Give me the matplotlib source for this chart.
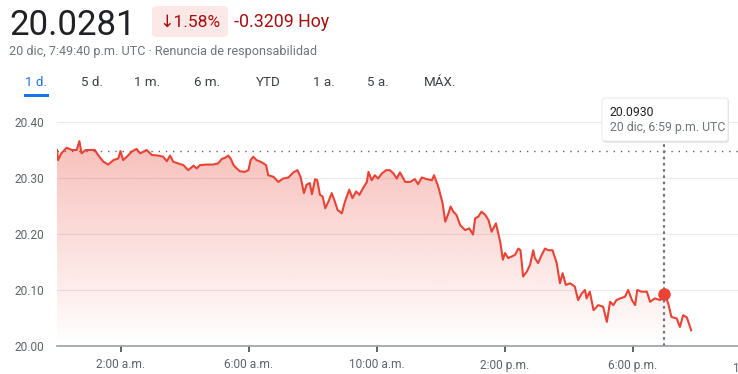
"""Cotización intradía (estilo Google Finance) con tooltip y gradiente."""

import matplotlib

matplotlib.use("Agg")
import matplotlib.pyplot as plt
import numpy as np
from matplotlib.patches import FancyBboxPatch, Rectangle

RED = "#ea4335"
DARK = "#202124"
GRAY = "#70757a"
BLUE = "#1a73e8"
plt.rcParams["font.family"] = ["Roboto", "DejaVu Sans"]

# minutos desde medianoche (UTC) y precio
minutes = [0, 2, 8, 12, 18, 28, 37, 42, 46, 54, 62, 71, 77, 87, 96, 106, 115, 119, 124, 131,
           140, 149, 156, 168, 178, 190, 199, 206, 212, 218, 227, 237, 246, 256, 262, 268, 281, 293, 302, 309,
           315, 321, 326, 331, 337, 343, 352, 359, 363, 368, 374, 384, 392, 396, 406, 415, 424, 434, 443, 451,
           457, 463, 468, 474, 478, 484, 488, 493, 498, 503, 509, 515, 521, 526, 534, 540, 548, 554, 561, 567,
           574, 581, 584, 590, 596, 602, 609, 617, 624, 631, 637, 643, 653, 662, 671, 677, 684, 693, 703, 707,
           715, 723, 728, 734, 738, 743, 749, 756, 765, 773, 780, 784, 790, 796, 803, 809, 815, 823, 831, 836,
           840, 846, 853, 859, 865, 869, 874, 881, 887, 893, 896, 902, 909, 915, 921, 929, 937, 943, 948, 954,
           962, 971, 977, 984, 990, 993, 999, 1006, 1015, 1024, 1031, 1037, 1043, 1049, 1056, 1065, 1071, 1078,
           1084, 1088, 1096, 1106, 1112, 1121, 1131, 1139, 1146, 1152, 1162, 1168, 1174, 1181, 1189]
prices = [20.350, 20.332, 20.344, 20.348, 20.354, 20.350, 20.350, 20.366, 20.344, 20.350, 20.350, 20.350,
          20.341, 20.329, 20.324, 20.332, 20.335, 20.348, 20.332, 20.338, 20.347, 20.352, 20.344, 20.350,
          20.341, 20.340, 20.338, 20.330, 20.340, 20.329, 20.326, 20.323, 20.314, 20.322, 20.317, 20.323,
          20.324, 20.324, 20.326, 20.334, 20.336, 20.340, 20.334, 20.323, 20.317, 20.312, 20.311, 20.314,
          20.332, 20.338, 20.332, 20.328, 20.323, 20.305, 20.302, 20.293, 20.299, 20.301, 20.310, 20.314,
          20.301, 20.273, 20.288, 20.291, 20.271, 20.298, 20.296, 20.270, 20.267, 20.246, 20.258, 20.273,
          20.258, 20.243, 20.237, 20.258, 20.279, 20.264, 20.276, 20.270, 20.282, 20.293, 20.311, 20.296,
          20.305, 20.299, 20.308, 20.314, 20.314, 20.308, 20.299, 20.310, 20.293, 20.293, 20.298, 20.289,
          20.301, 20.298, 20.296, 20.305, 20.284, 20.255, 20.222, 20.237, 20.249, 20.240, 20.234, 20.216,
          20.207, 20.210, 20.199, 20.228, 20.231, 20.240, 20.234, 20.225, 20.204, 20.219, 20.186, 20.154,
          20.166, 20.157, 20.160, 20.163, 20.174, 20.171, 20.124, 20.133, 20.145, 20.171, 20.157, 20.148,
          20.163, 20.174, 20.171, 20.171, 20.148, 20.112, 20.130, 20.109, 20.112, 20.106, 20.082, 20.094,
          20.100, 20.085, 20.097, 20.064, 20.073, 20.070, 20.043, 20.079, 20.073, 20.082, 20.085, 20.088,
          20.100, 20.082, 20.073, 20.100, 20.097, 20.097, 20.079, 20.085, 20.082, 20.093, 20.076, 20.052,
          20.049, 20.034, 20.055, 20.051, 20.028]
prev_close = 20.349
hover_min, hover_price = 1139, 20.093
tick_min = [120, 360, 600, 840, 1080, 1320]
tick_labels = ["2:00 a.m.", "6:00 a.m.", "10:00 a.m.", "2:00 p.m.", "6:00 p.m.", "10:00 p.m."]
y_ticks = [20.00, 20.10, 20.20, 20.30, 20.40]
tabs = ["1 d.", "5 d.", "1 m.", "6 m.", "YTD", "1 a.", "5 a.", "MÁX."]
tab_x = [36, 92, 147, 207, 268, 324, 378, 440]

W, H = 738, 374
fig = plt.figure(figsize=(W / 100, H / 100), dpi=100)


def fx(px):
    return px / W


def fy(py):
    return 1 - py / H


# ---------------- cabecera ----------------
fig.text(fx(9), fy(35), "20.0281", fontsize=25, color=DARK, va="baseline")
fig.patches.append(FancyBboxPatch((fx(152), fy(37)), fx(76), 31 / H, transform=fig.transFigure,
                                  boxstyle="round,pad=0,rounding_size=0.008", fc="#fce8e6", ec="none"))
fig.text(fx(190), fy(22), "↓1.58%", fontsize=12.5, color="#a50e0e", ha="center", va="center")
fig.text(fx(234), fy(22), "-0.3209 Hoy", fontsize=12.8, color="#a50e0e", va="center")
fig.text(fx(9), fy(52), "20 dic, 7:49:40 p.m. UTC · Renuncia de responsabilidad",
         fontsize=9.1, color=GRAY, va="center")
for lab, x in zip(tabs, tab_x):
    fig.text(fx(x), fy(83), lab, fontsize=9.6, color=BLUE if lab == "1 d." else "#3c4043",
             ha="center", va="center")
fig.patches.append(Rectangle((fx(24), fy(97)), fx(25), 3 / H, transform=fig.transFigure,
                             fc=BLUE, ec="none"))

# ---------------- gráfico ----------------
ax = fig.add_axes([fx(57), fy(346), fx(W - 57), (346 - 98) / H])
x0, x1 = 0, (W - 57) * 60 / 32
y0, y1 = 20.0, 20.40 + 24 * 0.1 / 56
ax.set_xlim(x0, x1)
ax.set_ylim(y0, y1)

for v in y_ticks[1:]:
    ax.axhline(v, color="#e8eaed", lw=0.8, zorder=0)

# gradiente bajo la línea
rgba = np.zeros((256, 1, 4))
rgba[..., :3] = matplotlib.colors.to_rgb(RED)
top = max(prices)
alpha = np.clip((np.linspace(y0, y1, 256) - y0) / (top - y0), 0, 1) * 0.34
rgba[:, 0, 3] = alpha
im = ax.imshow(rgba, extent=[x0, x1, y0, y1], origin="lower", aspect="auto", zorder=1)
poly = ax.fill_between(minutes, prices, y0, color="none", lw=0)
im.set_clip_path(poly.get_paths()[0], transform=ax.transData)

ax.plot(minutes, prices, color=RED, lw=1.5, zorder=3, solid_joinstyle="round")
ax.axhline(prev_close, color="#5f6368", lw=1.0, ls=(0, (1, 4.2)), zorder=2)
ax.plot([hover_min, hover_min], [y0, 20.40 - 19 * 0.1 / 56], color=GRAY, lw=1.6,
        ls=(0, (1.2, 1.6)), zorder=2)
ax.plot(hover_min, hover_price, "o", color=RED, ms=8, zorder=4)

for s in ["top", "right", "left"]:
    ax.spines[s].set_visible(False)
ax.spines["bottom"].set_color("#9aa0a6")
ax.spines["bottom"].set_linewidth(1.2)
ax.set_yticks(y_ticks)
ax.set_yticklabels([f"{v:.2f}" for v in y_ticks])
ax.tick_params(axis="y", length=0, pad=9, labelsize=8.6, labelcolor="#5f6368")
vis = [t for t in tick_min if t <= x1]
ax.set_xticks(vis)
ax.set_xticklabels(tick_labels[:len(vis)])
ax.tick_params(axis="x", length=4, width=1.4, color="#5f6368", pad=5, labelsize=8.6,
               labelcolor="#5f6368")
for t, lab in zip(tick_min, tick_labels):
    if t > x1:
        ax.text(t, -16 / (346 - 98), lab, fontsize=8.6, color="#5f6368", ha="center", va="top",
                transform=ax.get_xaxis_transform(), clip_on=False)

# tooltip
fig.patches.append(FancyBboxPatch((fx(603), fy(143)), fx(126), 44 / H, transform=fig.transFigure,
                                  boxstyle="round,pad=0,rounding_size=0.006", fc="#d5d5d5", ec="none",
                                  alpha=0.6, zorder=5))
fig.patches.append(FancyBboxPatch((fx(602), fy(141)), fx(126), 43 / H, transform=fig.transFigure,
                                  boxstyle="round,pad=0,rounding_size=0.006", fc="white", ec="#e6e6e6",
                                  lw=0.6, zorder=6))
fig.text(fx(610), fy(112), "20.0930", fontsize=8.8, color=DARK, va="center", zorder=7)
fig.text(fx(610), fy(128), "20 dic, 6:59 p.m. UTC", fontsize=8.8, color=GRAY, va="center", zorder=7)

fig.savefig("out.png", dpi=100)
plt.close()
